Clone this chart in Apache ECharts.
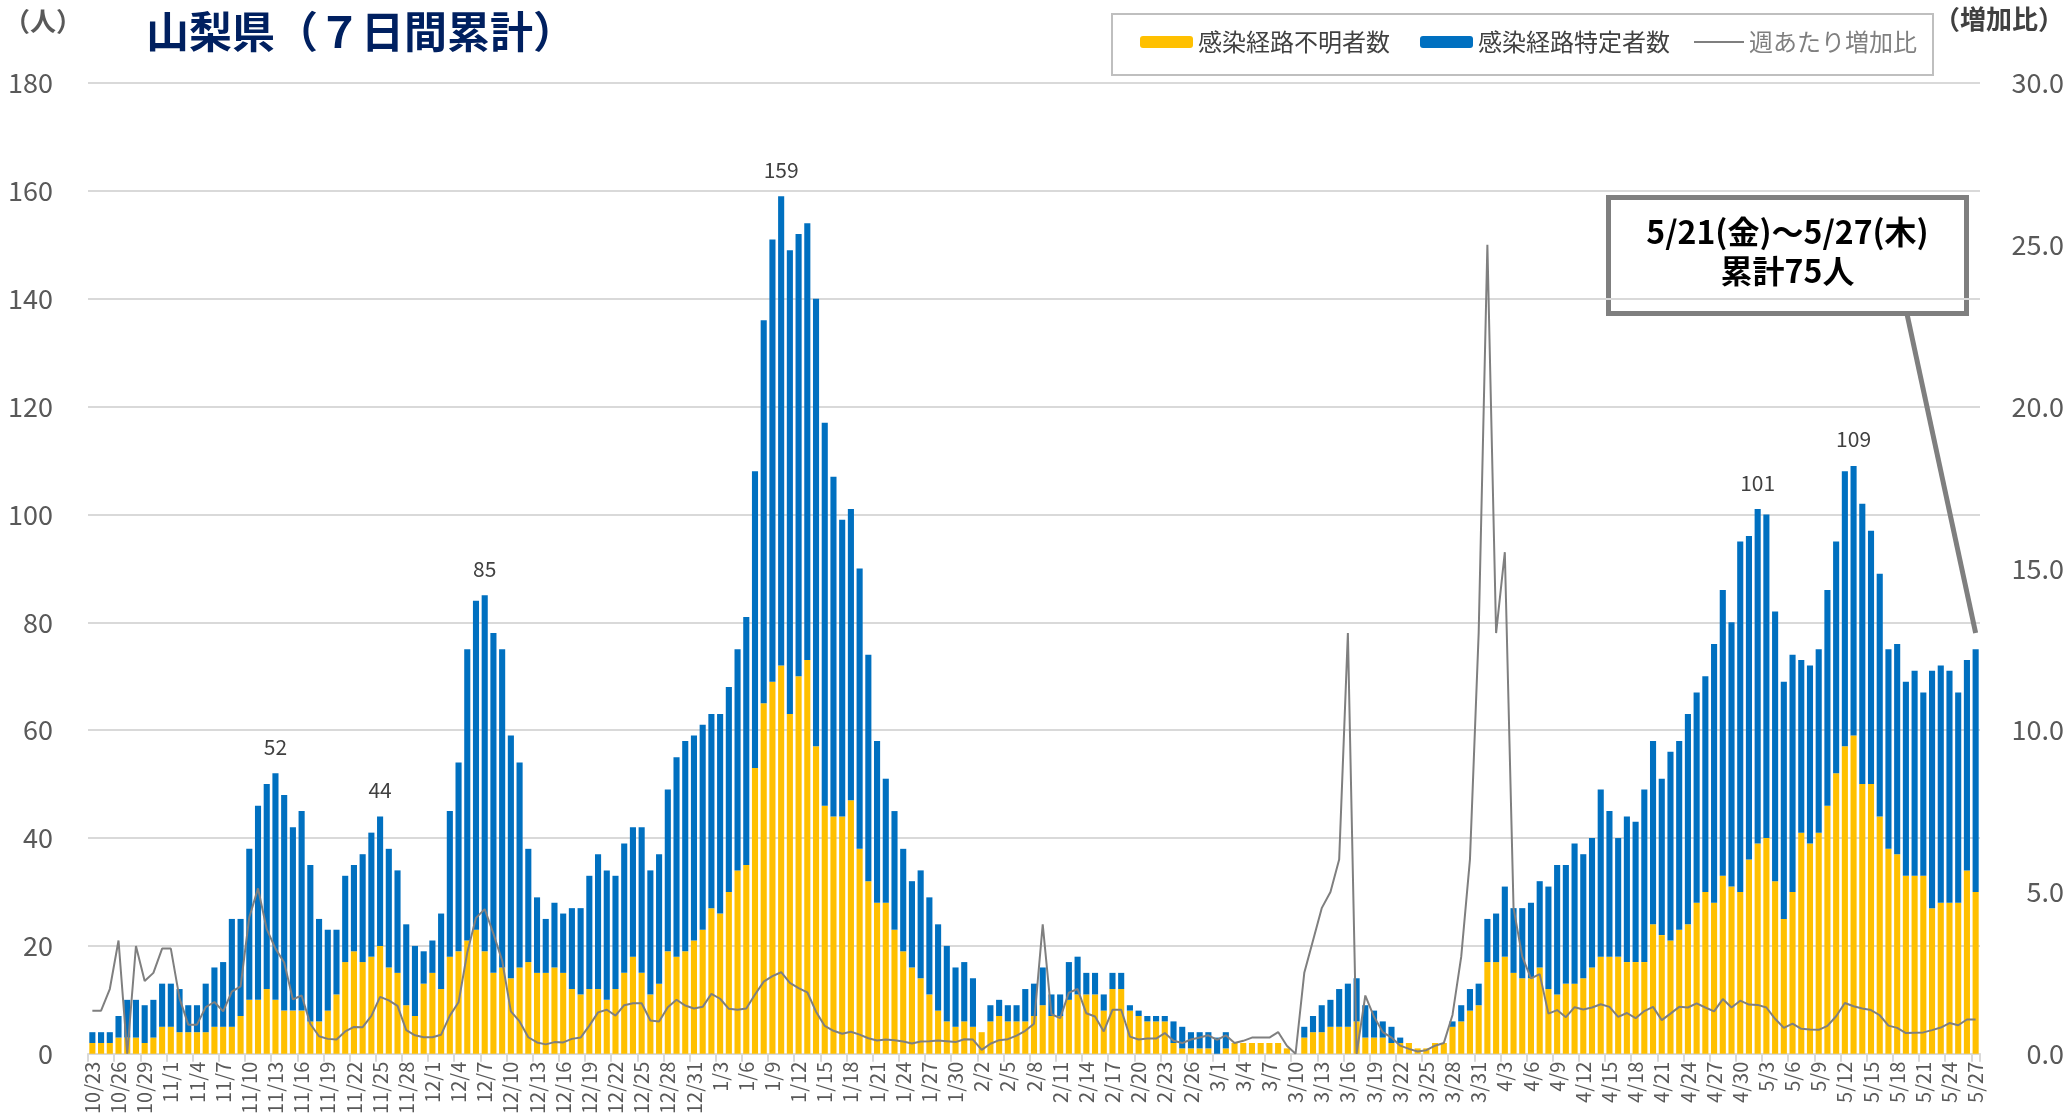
<!DOCTYPE html>
<html>
<head>
<meta charset="utf-8">
<script src="https://cdn.jsdelivr.net/npm/echarts@6/dist/echarts.min.js"></script>
<style>
  html, body { margin: 0; padding: 0; background: #fff; }
  #container { width: 2067px; height: 1117px; }
</style>
</head>
<body>
<div id="container"></div>
<script>
// 山梨県 7日間累計（2020/10/23 ～ 2021/5/27）
const FONT = '"Noto Sans CJK JP", "Noto Sans", sans-serif';

// [月, 開始日, 終了日]
const monthSpans = [[10, 23, 31], [11, 1, 30], [12, 1, 31], [1, 1, 31], [2, 1, 28], [3, 1, 31], [4, 1, 30], [5, 1, 27]];
const dates = [];
monthSpans.forEach(([m, from, to]) => {
    for (let d = from; d <= to; d++) dates.push(m + '/' + d);
});

// 感染経路不明者数（7日間累計）
const unknownCounts = [
    2, 2, 2, 3, 3, 3, 2, 3, 5,                                                               // 10月
    5, 4, 4, 4, 4, 5, 5, 5, 7, 10, 10, 12, 10, 8, 8, 8, 6, 6, 8, 11, 17, 19, 17, 18, 20, 16, 15, 9, 7, 13, // 11月
    15, 12, 18, 19, 21, 23, 19, 15, 16, 14, 16, 17, 15, 15, 16, 15, 12, 11, 12, 12, 10, 12, 15, 18, 15, 11, 13, 19, 18, 19, 21, // 12月
    23, 27, 26, 30, 34, 35, 53, 65, 69, 72, 63, 70, 73, 57, 46, 44, 44, 47, 38, 32, 28, 28, 23, 19, 16, 14, 11, 8, 6, 5, 6, // 1月
    5, 4, 6, 7, 6, 6, 6, 7, 9, 7, 7, 10, 11, 11, 11, 8, 12, 12, 8, 7, 6, 6, 6, 2, 1, 1, 1, 1, // 2月
    0, 1, 2, 2, 2, 2, 2, 2, 1, 0, 3, 4, 4, 5, 5, 5, 6, 3, 3, 3, 2, 2, 2, 1, 1, 2, 2, 5, 6, 8, 9, // 3月
    17, 17, 18, 15, 14, 14, 16, 12, 11, 13, 13, 14, 16, 18, 18, 18, 17, 17, 17, 24, 22, 21, 23, 24, 28, 30, 28, 33, 31, 30, // 4月
    36, 39, 40, 32, 25, 30, 41, 39, 41, 46, 52, 57, 59, 50, 50, 44, 38, 37, 33, 33, 33, 27, 28, 28, 28, 34, 30 // 5月
];

// 感染経路特定者数（7日間累計）
const knownCounts = [
    2, 2, 2, 4, 7, 7, 7, 7, 8,
    8, 8, 5, 5, 9, 11, 12, 20, 18, 28, 36, 38, 42, 40, 34, 37, 29, 19, 15, 12, 16, 16, 20, 23, 24, 22, 19, 15, 13, 6,
    6, 14, 27, 35, 54, 61, 66, 63, 59, 45, 38, 21, 14, 10, 12, 11, 15, 16, 21, 25, 24, 21, 24, 24, 27, 23, 24, 30, 37, 39, 38,
    38, 36, 37, 38, 41, 46, 55, 71, 82, 87, 86, 82, 81, 83, 71, 63, 55, 54, 52, 42, 30, 23, 22, 19, 16, 20, 18, 16, 14, 11, 11,
    9, 0, 3, 3, 3, 3, 6, 6, 7, 4, 4, 7, 7, 4, 4, 3, 3, 3, 1, 1, 1, 1, 1, 4, 4, 3, 3, 3,
    3, 3, 0, 0, 0, 0, 0, 0, 0, 0, 2, 3, 5, 5, 7, 8, 8, 6, 5, 3, 3, 1, 0, 0, 0, 0, 0, 1, 3, 4, 4,
    8, 9, 13, 12, 13, 14, 16, 19, 24, 22, 26, 23, 24, 31, 27, 22, 27, 26, 32, 34, 29, 35, 35, 39, 39, 40, 48, 53, 49, 65,
    60, 62, 60, 50, 44, 44, 32, 33, 34, 40, 43, 51, 50, 52, 47, 45, 37, 39, 36, 38, 34, 44, 44, 43, 39, 39, 45
];

// 週あたり増加比
const weeklyRatio = [
    1.33, 1.33, 2.0, 3.5, 0, 3.33, 2.25, 2.5, 3.25,
    3.25, 1.71, 0.9, 0.9, 1.44, 1.6, 1.31, 1.92, 2.08, 4.22, 5.11, 3.85, 3.25, 2.82, 1.68, 1.8, 0.92, 0.54, 0.46, 0.44, 0.69, 0.83, 0.82, 1.17, 1.76, 1.65, 1.48, 0.73, 0.57, 0.51,
    0.51, 0.59, 1.18, 1.59, 3.13, 4.2, 4.47, 3.71, 2.88, 1.31, 1.0, 0.51, 0.35, 0.29, 0.36, 0.35, 0.46, 0.5, 0.87, 1.28, 1.36, 1.18, 1.5, 1.56, 1.56, 1.03, 1.0, 1.44, 1.67, 1.49, 1.4,
    1.45, 1.85, 1.7, 1.39, 1.36, 1.4, 1.83, 2.23, 2.4, 2.52, 2.19, 2.03, 1.9, 1.3, 0.86, 0.71, 0.62, 0.68, 0.59, 0.48, 0.41, 0.44, 0.42, 0.38, 0.32, 0.38, 0.39, 0.41, 0.39, 0.36, 0.45,
    0.44, 0.12, 0.31, 0.42, 0.45, 0.56, 0.71, 0.93, 4.0, 1.22, 1.1, 1.89, 2.0, 1.25, 1.15, 0.69, 1.36, 1.36, 0.53, 0.44, 0.47, 0.47, 0.64, 0.4, 0.33, 0.44, 0.5, 0.57,
    0.43, 0.57, 0.33, 0.4, 0.5, 0.5, 0.5, 0.67, 0.25, 0, 2.5, 3.5, 4.5, 5.0, 6.0, 13.0, 0, 1.8, 1.14, 0.67, 0.5, 0.25, 0.15, 0.07, 0.11, 0.25, 0.33, 1.2, 3.0, 6.0, 13.0,
    25.0, 13.0, 15.5, 4.5, 3.0, 2.33, 2.46, 1.24, 1.35, 1.13, 1.44, 1.37, 1.43, 1.53, 1.45, 1.14, 1.26, 1.1, 1.32, 1.45, 1.04, 1.24, 1.45, 1.43, 1.56, 1.43, 1.31, 1.69, 1.43, 1.64,
    1.52, 1.51, 1.43, 1.08, 0.8, 0.93, 0.77, 0.75, 0.74, 0.86, 1.16, 1.57, 1.47, 1.4, 1.35, 1.19, 0.87, 0.8, 0.64, 0.65, 0.66, 0.73, 0.81, 0.95, 0.88, 1.06, 1.06
];

// 合計値ラベルを付ける日
const peakDates = ['11/13', '11/25', '12/7', '1/10', '5/2', '5/13'];

const leftTicks = { min: 0, max: 180, interval: 20 };
const rightTicks = { min: 0, max: 30, interval: 5 };

var dom = document.getElementById('container');
var myChart = echarts.init(dom, null, { renderer: 'canvas' });

var legendText = { fontSize: 24, color: '#404040', fontFamily: FONT };

var option = {
    animation: false,
    backgroundColor: '#fff',
    textStyle: { fontFamily: FONT },
    title: {
        text: '山梨県（７日間累計）',
        left: 141,
        top: 5,
        textStyle: { fontSize: 43, fontWeight: 'bold', color: '#002060', fontFamily: FONT }
    },
    legend: [
        {
            left: 1140,
            top: 30,
            padding: 0,
            itemWidth: 53,
            itemHeight: 12,
            itemGap: 30,
            textStyle: legendText,
            data: ['感染経路不明者数', '感染経路特定者数']
        },
        {
            left: 1694,
            top: 30,
            padding: 0,
            itemWidth: 50,
            itemHeight: 2,
            textStyle: Object.assign({}, legendText, { color: '#7f7f7f' }),
            data: [{ name: '週あたり増加比', icon: 'rect' }]
        }
    ],
    grid: { left: 88, right: 87, top: 83, bottom: 60 },
    xAxis: {
        type: 'category',
        data: dates,
        boundaryGap: true,
        axisLine: { lineStyle: { color: '#d9d9d9', width: 2 } },
        axisTick: { show: true, interval: 2, length: 8, lineStyle: { color: '#d9d9d9', width: 2 } },
        axisLabel: { interval: 2, rotate: 90, fontSize: 20, color: '#595959', margin: 8, fontFamily: FONT }
    },
    yAxis: [
        {
            type: 'value',
            min: leftTicks.min, max: leftTicks.max, interval: leftTicks.interval,
            axisLine: { show: false },
            axisTick: { show: false },
            axisLabel: { fontSize: 27, color: '#595959', margin: 35, fontFamily: FONT },
            splitLine: { lineStyle: { color: '#d9d9d9', width: 2 } }
        },
        {
            type: 'value',
            min: rightTicks.min, max: rightTicks.max, interval: rightTicks.interval,
            axisLine: { show: false },
            axisTick: { show: false },
            splitLine: { show: false },
            axisLabel: {
                fontSize: 27, color: '#595959', align: 'right', margin: 84, fontFamily: FONT,
                formatter: v => v.toFixed(1)
            }
        }
    ],
    graphic: [
        {
            type: 'rect', left: 1111, top: 13, z: -1,
            shape: { width: 821, height: 61 },
            style: { fill: '#fff', stroke: '#bfbfbf', lineWidth: 2 }
        },
        {
            type: 'text', left: 4, top: 8,
            style: { text: '（人）', font: 'bold 26px ' + FONT, fill: '#595959' }
        },
        {
            type: 'text', left: 1934, top: 6,
            style: { text: '（増加比）', font: 'bold 26px ' + FONT, fill: '#404040' }
        },
        {
            type: 'group', left: 1606, top: 195, z: 100,
            children: [
                { type: 'rect', shape: { x: 0, y: 0, width: 358, height: 116 },
                  style: { fill: '#fff', stroke: '#7f7f7f', lineWidth: 5 } },
                { type: 'text', x: 179, y: 34,
                  style: { text: '5/21(金)～5/27(木)', font: 'bold 32px ' + FONT, fill: '#000', align: 'center', verticalAlign: 'middle' } },
                { type: 'text', x: 179, y: 73,
                  style: { text: '累計75人', font: 'bold 32px ' + FONT, fill: '#000', align: 'center', verticalAlign: 'middle' } }
            ]
        }
    ],
    series: [
        {
            name: '感染経路不明者数',
            type: 'bar',
            stack: 'total',
            data: unknownCounts,
            barCategoryGap: '30%',
            itemStyle: { color: '#FFC000' }
        },
        {
            name: '感染経路特定者数',
            type: 'bar',
            stack: 'total',
            data: knownCounts,
            itemStyle: { color: '#0070C0' },
            label: {
                show: true,
                position: 'top',
                distance: 16,
                fontSize: 21,
                color: '#404040',
                fontFamily: FONT,
                formatter: p => peakDates.includes(p.name) ? String(unknownCounts[p.dataIndex] + knownCounts[p.dataIndex]) : ''
            },
            markLine: {
                silent: true,
                symbol: ['none', 'none'],
                label: { show: false },
                lineStyle: { color: '#7f7f7f', width: 5, type: 'solid' },
                data: [[{ x: 1907, y: 314 }, { coord: ['5/27', 78] }]]
            }
        },
        {
            name: '週あたり増加比',
            type: 'line',
            yAxisIndex: 1,
            data: weeklyRatio,
            symbol: 'none',
            z: 5,
            itemStyle: { color: '#7f7f7f' },
            lineStyle: { color: '#7f7f7f', width: 2 }
        }
    ]
};
myChart.setOption(option, true);
</script>
</body>
</html>
